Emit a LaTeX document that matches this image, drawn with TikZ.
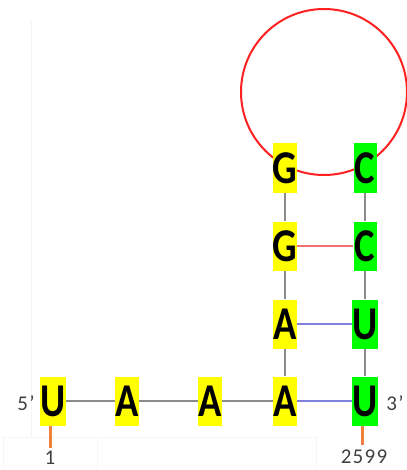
\documentclass[tikz,border=0pt]{standalone}
\usepackage{fontspec}
\newfontfamily\basefont{Carlito}[FakeStretch=0.82]
\newfontfamily\labelfont{Carlito}[LetterSpace=6]
\definecolor{pairY}{HTML}{FFFF00}
\definecolor{pairG}{HTML}{00FF00}
\definecolor{bbone}{HTML}{8C8C8C}
\definecolor{auline}{HTML}{8080E0}
\definecolor{gcline}{HTML}{F07070}
\definecolor{loopred}{HTML}{FF2020}
\definecolor{tick}{HTML}{F08040}
\definecolor{labelgray}{HTML}{404040}
\definecolor{faint}{HTML}{F5F5F5}
\tikzset{
  base/.style={inner sep=0pt, minimum width=23pt, minimum height=49pt,
    font=\basefont\bfseries\fontsize{47}{47}\selectfont, text=black},
  ybase/.style={base, fill=pairY},
  gbase/.style={base, fill=pairG},
  backbone/.style={draw=bbone, line width=1.6pt},
  aupair/.style={draw=auline, line width=1.8pt},
  gcpair/.style={draw=gcline, line width=1.8pt},
  endtick/.style={draw=tick, line width=3pt},
  endlabel/.style={font=\labelfont\fontsize{21}{21}\selectfont, text=labelgray, inner sep=0pt}
}
\begin{document}
\begin{tikzpicture}[x=1pt,y=-1pt]
\useasboundingbox (0,0) rectangle (406,470);
% light frame lines behind the structure
\draw[faint, line width=1pt] (31,20) -- (31,437);
\draw[faint, line width=1pt] (3,470) -- (3,437) -- (316,437) -- (316,470);
\draw[faint, line width=1pt] (97,437) -- (97,470);
% hairpin loop
\draw[loopred, line width=2pt] (324,92) circle[radius=83];
% nucleotides
\node[ybase] (u1) at (53,401) {U};
\node[ybase] (a1) at (127,401) {A};
\node[ybase] (a2) at (210,401) {A};
\node[ybase] (a3) at (285,401) {A};
\node[gbase] (u2) at (365,401) {U};
\node[ybase] (a4) at (285,324) {A};
\node[gbase] (u3) at (365,324) {U};
\node[ybase] (g1) at (285,246) {G};
\node[gbase] (c1) at (365,246) {C};
\node[ybase] (g2) at (285,168) {G};
\node[gbase] (c2) at (365,168) {C};
% backbone
\draw[backbone] (u1.east) -- (a1.west);
\draw[backbone] (a1.east) -- (a2.west);
\draw[backbone] (a2.east) -- (a3.west);
\draw[backbone] (a3.north) -- (a4.south);
\draw[backbone] (a4.north) -- (g1.south);
\draw[backbone] (g1.north) -- (g2.south);
\draw[backbone] (u2.north) -- (u3.south);
\draw[backbone] (u3.north) -- (c1.south);
\draw[backbone] (c1.north) -- (c2.south);
% base pairs
\draw[aupair] (a3.east) -- (u2.west);
\draw[aupair] (a4.east) -- (u3.west);
\draw[gcpair] (g1.east) -- (c1.west);
% strand ends
\coordinate (t1) at (50,448);
\coordinate (t2) at (362,445);
\draw[endtick] (u1.south -| t1) -- (t1);
\draw[endtick] (u2.south -| t2) -- (t2);
\node[endlabel] (five) at (26,403) {5’};
\node[endlabel] (three) at (395,403) {3’};
\node[endlabel] (n1) at (50,458) {1};
\node[endlabel] (n2599) at (364,457) {2599};
\end{tikzpicture}
\end{document}
